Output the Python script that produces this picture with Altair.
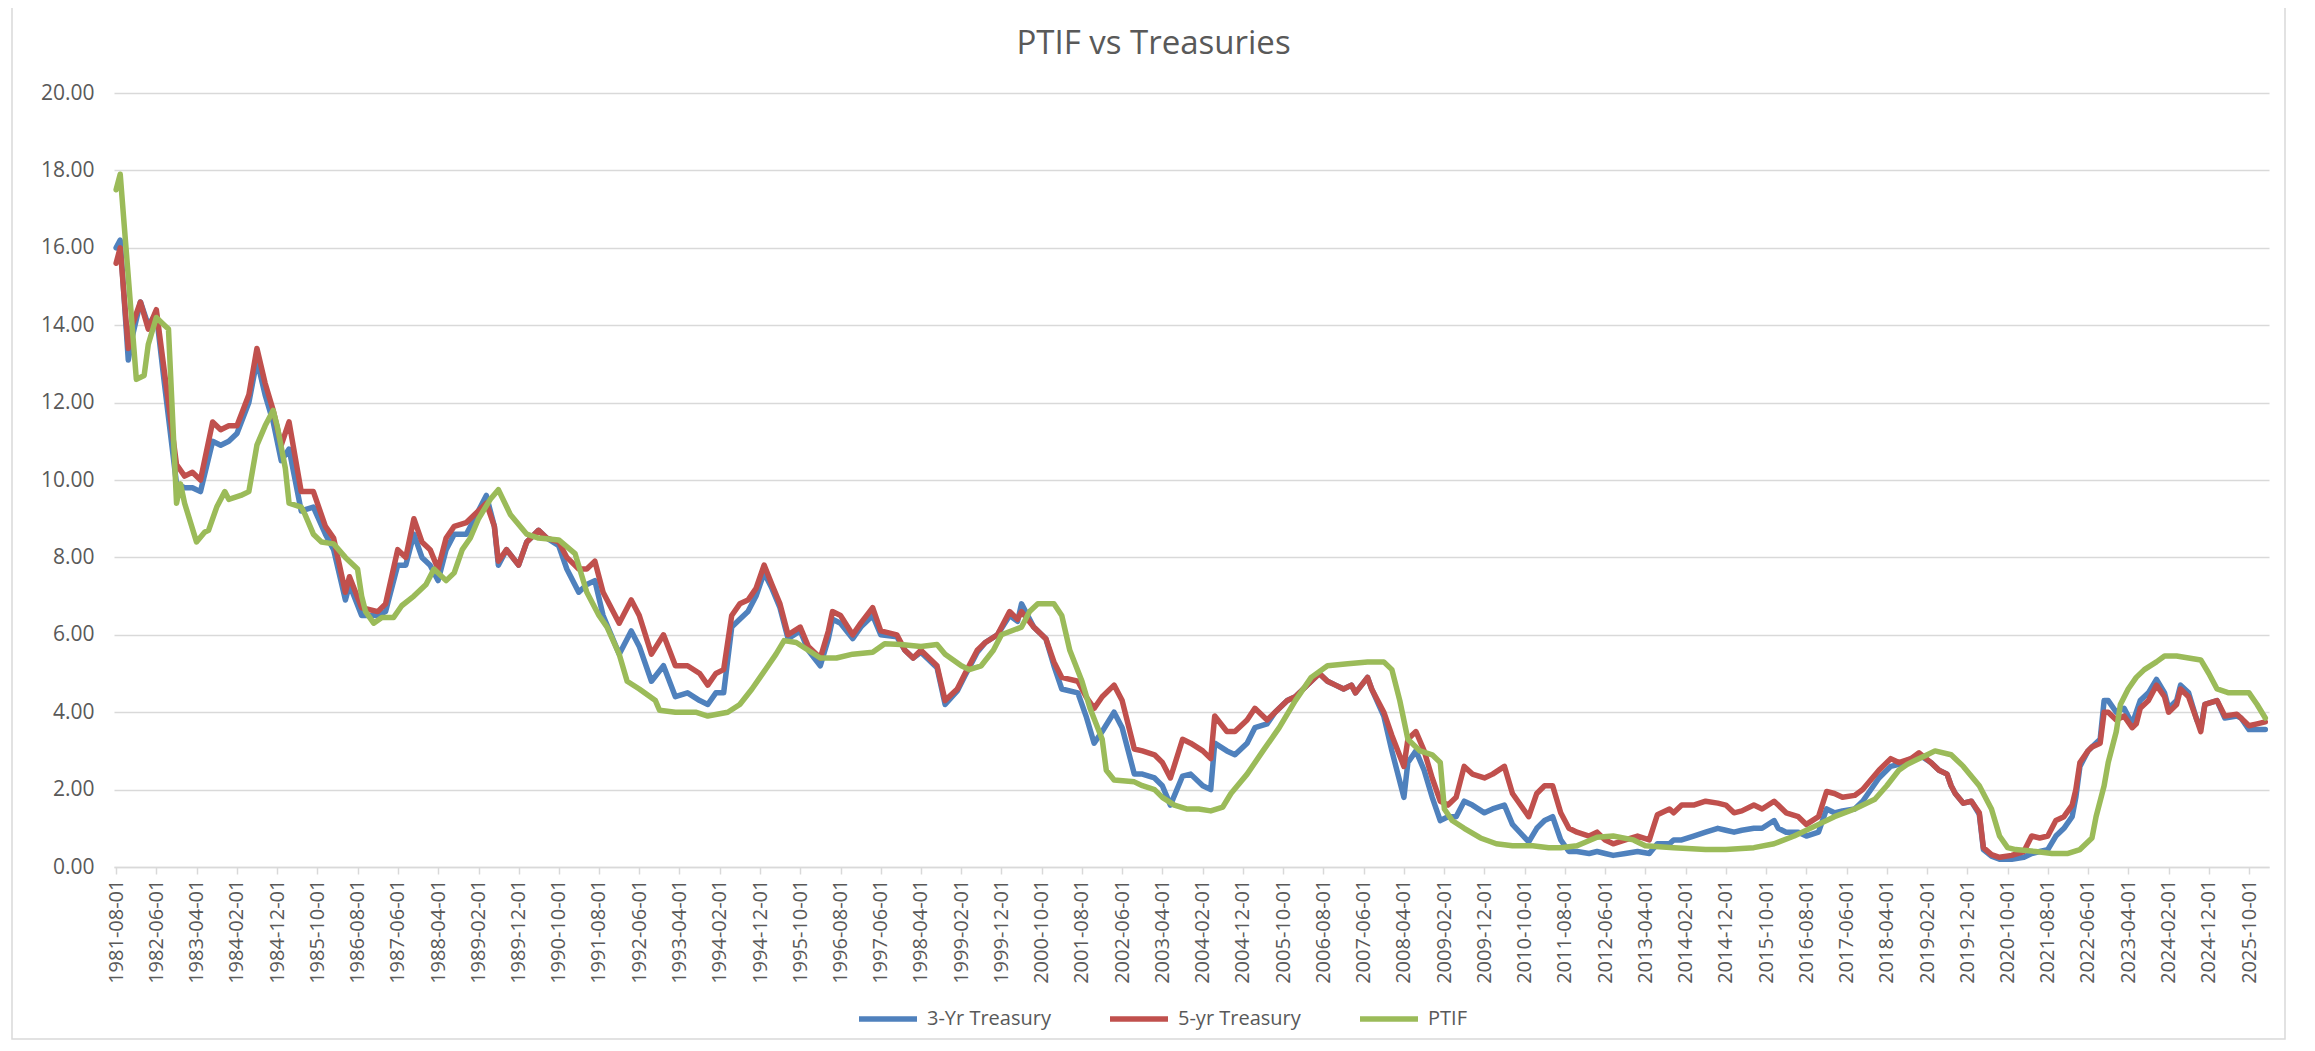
import altair as alt
import pandas as pd

# ---------------- data ----------------
START_YEAR, START_MONTH = 1981, 8   # month offset 0 == 1981-08

SERIES = ["3-Yr Treasury", "5-yr Treasury", "PTIF"]
COLORS = ["#4F81BD", "#C0504D", "#9BBB59"]

# month offsets (from 1981-08) at which the two Treasury series were read
T_MONTHS = [
    0, 1, 3, 4, 6, 8, 10, 12, 15, 17,
    19, 21, 24, 26, 28, 30, 33, 35, 37, 39,
    41, 43, 46, 49, 52, 54, 57, 58, 61, 65,
    67, 70, 72, 74, 76, 78, 80, 82, 84, 87,
    89, 92, 94, 95, 97, 100, 102, 105, 107, 110,
    112, 115, 117, 119, 121, 125, 128, 130, 133, 136,
    139, 142, 145, 147, 149, 151, 153, 155, 157, 159,
    161, 163, 165, 167, 170, 172, 175, 177, 178, 180,
    183, 185, 188, 190, 194, 196, 198, 200, 204, 206,
    209, 211, 214, 216, 219, 222, 224, 225, 228, 231,
    233, 235, 239, 241, 243, 245, 248, 250, 253, 255,
    258, 260, 262, 265, 267, 270, 272, 273, 276, 278,
    281, 283, 286, 288, 291, 293, 296, 299, 301, 303,
    305, 307, 308, 311, 312, 315, 317, 320, 321, 323,
    325, 327, 329, 331, 333, 335, 337, 340, 342, 345,
    347, 351, 353, 355, 357, 359, 361, 363, 366, 368,
    370, 372, 375, 378, 381, 383, 386, 387, 389, 392,
    395, 398, 400, 402, 404, 407, 409, 412, 413, 415,
    418, 420, 423, 425, 427, 429, 432, 434, 438, 441,
    443, 446, 448, 451, 453, 455, 456, 457, 459, 461,
    463, 464, 466, 468, 471, 474, 476, 478, 480, 482,
    484, 486, 487, 488, 490, 491, 493, 494, 495, 497,
    499, 501, 502, 503, 505, 507, 509, 510, 512, 513,
    515, 517, 518, 519, 522, 524, 527, 528, 530, 532,
    534,
]

T3_VALUES = [
    16.0, 16.2, 13.1, 13.7, 14.6, 14.0, 14.3, 12.5, 9.9, 9.8,
    9.8, 9.7, 11.0, 10.9, 11.0, 11.2, 12.0, 13.1, 12.2, 11.5,
    10.5, 10.8, 9.2, 9.3, 8.6, 8.2, 6.9, 7.3, 6.5, 6.5,
    6.6, 7.8, 7.8, 8.6, 8.0, 7.8, 7.4, 8.2, 8.6, 8.6,
    9.0, 9.6, 8.8, 7.8, 8.2, 7.8, 8.4, 8.7, 8.5, 8.3,
    7.7, 7.1, 7.3, 7.4, 6.5, 5.5, 6.1, 5.7, 4.8, 5.2,
    4.4, 4.5, 4.3, 4.2, 4.5, 4.5, 6.2, 6.4, 6.6, 7.0,
    7.6, 7.2, 6.7, 5.9, 6.1, 5.6, 5.2, 5.9, 6.4, 6.3,
    5.9, 6.2, 6.5, 6.0, 5.95, 5.6, 5.4, 5.55, 5.15, 4.2,
    4.55, 4.95, 5.55, 5.8, 6.0, 6.5, 6.35, 6.8, 6.2, 5.9,
    5.2, 4.6, 4.5, 3.9, 3.2, 3.5, 4.0, 3.6, 2.4, 2.4,
    2.3, 2.1, 1.6, 2.35, 2.4, 2.1, 2.0, 3.2, 3.0, 2.9,
    3.2, 3.6, 3.7, 4.0, 4.3, 4.4, 4.7, 5.0, 4.8, 4.7,
    4.6, 4.7, 4.5, 4.9, 4.6, 3.9, 3.0, 1.8, 2.7, 3.0,
    2.5, 1.8, 1.2, 1.3, 1.3, 1.7, 1.6, 1.4, 1.5, 1.6,
    1.1, 0.65, 1.0, 1.2, 1.3, 0.7, 0.4, 0.4, 0.35, 0.4,
    0.35, 0.3, 0.35, 0.4, 0.35, 0.6, 0.6, 0.7, 0.7, 0.8,
    0.9, 1.0, 0.95, 0.9, 0.95, 1.0, 1.0, 1.2, 1.0, 0.9,
    0.9, 0.8, 0.9, 1.5, 1.4, 1.45, 1.5, 1.7, 2.3, 2.6,
    2.65, 2.8, 2.9, 2.7, 2.5, 2.4, 2.1, 1.9, 1.65, 1.7,
    1.36, 0.45, 0.28, 0.2, 0.2, 0.25, 0.35, 0.4, 0.45, 0.8,
    1.0, 1.3, 1.8, 2.6, 3.0, 3.1, 3.3, 4.3, 4.3, 4.0,
    4.1, 3.7, 4.0, 4.3, 4.5, 4.85, 4.5, 4.1, 4.3, 4.7,
    4.5, 3.8, 3.6, 4.2, 4.3, 3.85, 3.9, 3.85, 3.55, 3.55,
    3.55,
]

T5_VALUES = [
    15.6, 16.0, 13.4, 14.0, 14.6, 13.9, 14.4, 12.8, 10.4, 10.1,
    10.2, 10.0, 11.5, 11.3, 11.4, 11.4, 12.2, 13.4, 12.5, 11.8,
    10.9, 11.5, 9.7, 9.7, 8.8, 8.5, 7.1, 7.5, 6.7, 6.6,
    6.8, 8.2, 8.0, 9.0, 8.4, 8.2, 7.7, 8.5, 8.8, 8.9,
    9.1, 9.4, 8.8, 7.9, 8.2, 7.8, 8.4, 8.7, 8.5, 8.4,
    8.0, 7.7, 7.7, 7.9, 7.1, 6.3, 6.9, 6.5, 5.5, 6.0,
    5.2, 5.2, 5.0, 4.7, 5.0, 5.1, 6.5, 6.8, 6.9, 7.2,
    7.8, 7.3, 6.8, 6.0, 6.2, 5.7, 5.4, 6.1, 6.6, 6.5,
    6.0, 6.3, 6.7, 6.1, 6.0, 5.6, 5.4, 5.6, 5.2, 4.3,
    4.6, 5.0, 5.6, 5.8, 6.0, 6.6, 6.4, 6.6, 6.2, 5.9,
    5.3, 4.9, 4.8, 4.4, 4.1, 4.4, 4.7, 4.3, 3.05, 3.0,
    2.9, 2.7, 2.3, 3.3, 3.2, 3.0, 2.8, 3.9, 3.5, 3.5,
    3.8, 4.1, 3.8, 4.0, 4.3, 4.4, 4.7, 5.0, 4.8, 4.7,
    4.6, 4.7, 4.5, 4.9, 4.6, 4.0, 3.4, 2.6, 3.3, 3.5,
    3.0, 2.3, 1.7, 1.6, 1.8, 2.6, 2.4, 2.3, 2.4, 2.6,
    1.9, 1.3, 1.9, 2.1, 2.1, 1.4, 1.0, 0.9, 0.8, 0.9,
    0.7, 0.6, 0.7, 0.8, 0.7, 1.35, 1.5, 1.4, 1.6, 1.6,
    1.7, 1.65, 1.6, 1.4, 1.45, 1.6, 1.5, 1.7, 1.6, 1.4,
    1.3, 1.1, 1.3, 1.95, 1.9, 1.8, 1.85, 2.0, 2.5, 2.8,
    2.7, 2.8, 2.95, 2.7, 2.5, 2.4, 2.1, 1.9, 1.65, 1.7,
    1.4, 0.5, 0.32, 0.25, 0.3, 0.4, 0.8, 0.75, 0.8, 1.2,
    1.3, 1.6, 2.0, 2.7, 3.0, 3.1, 3.2, 4.0, 4.0, 3.8,
    3.9, 3.6, 3.7, 4.1, 4.3, 4.7, 4.4, 4.0, 4.2, 4.6,
    4.4, 3.8, 3.5, 4.2, 4.3, 3.9, 3.95, 3.85, 3.65, 3.7,
    3.75,
]

# month offsets at which the PTIF series was read
P_MONTHS = [
    0, 1, 5, 7, 8, 10, 12, 13, 15, 16,
    17, 20, 22, 23, 25, 27, 28, 31, 33, 35,
    37, 39, 40, 42, 43, 46, 47, 49, 51, 54,
    57, 60, 61, 62, 64, 66, 69, 71, 74, 77,
    79, 82, 84, 86, 88, 90, 93, 95, 98, 102,
    105, 110, 114, 117, 120, 122, 125, 127, 130, 134,
    135, 139, 144, 147, 152, 155, 158, 160, 164, 166,
    169, 172, 175, 179, 183, 188, 191, 195, 200, 204,
    206, 210, 212, 215, 218, 220, 225, 227, 229, 233,
    235, 237, 240, 242, 245, 246, 248, 253, 255, 258,
    260, 263, 266, 269, 272, 275, 277, 281, 285, 289,
    293, 297, 301, 306, 311, 315, 317, 319, 321, 324,
    327, 329, 330, 332, 335, 339, 343, 347, 352, 356,
    359, 363, 368, 372, 377, 380, 387, 395, 400, 407,
    412, 417, 422, 427, 432, 437, 440, 443, 445, 447,
    450, 452, 456, 459, 463, 466, 468, 470, 472, 477,
    481, 485, 488, 491, 492, 494, 495, 497, 498, 500,
    502, 504, 507, 509, 512, 515, 518, 520, 522, 525,
    530, 532, 534,
]

PTIF_VALUES = [
    17.5, 17.9, 12.6, 12.7, 13.5, 14.2, 14.0, 13.9, 9.4, 9.9,
    9.4, 8.4, 8.65, 8.7, 9.3, 9.7, 9.5, 9.6, 9.7, 10.9,
    11.4, 11.8, 11.4, 10.3, 9.4, 9.3, 9.1, 8.6, 8.4, 8.35,
    8.0, 7.7, 7.0, 6.6, 6.3, 6.45, 6.45, 6.75, 7.0, 7.3,
    7.7, 7.4, 7.6, 8.2, 8.5, 9.0, 9.5, 9.75, 9.1, 8.6,
    8.5, 8.45, 8.1, 7.1, 6.5, 6.2, 5.5, 4.8, 4.6, 4.3,
    4.05, 4.0, 4.0, 3.9, 4.0, 4.2, 4.6, 4.9, 5.5, 5.85,
    5.8, 5.6, 5.4, 5.4, 5.5, 5.55, 5.77, 5.75, 5.7, 5.75,
    5.5, 5.2, 5.1, 5.2, 5.6, 6.0, 6.2, 6.6, 6.8, 6.8,
    6.5, 5.6, 4.8, 4.1, 3.3, 2.5, 2.25, 2.2, 2.1, 2.0,
    1.8, 1.6, 1.5, 1.5, 1.45, 1.55, 1.9, 2.4, 3.0, 3.6,
    4.3, 4.9, 5.2, 5.25, 5.3, 5.3, 5.1, 4.3, 3.3, 3.0,
    2.9, 2.7, 1.5, 1.2, 1.0, 0.75, 0.6, 0.55, 0.55, 0.5,
    0.5, 0.55, 0.77, 0.8, 0.7, 0.55, 0.5, 0.45, 0.45, 0.5,
    0.6, 0.8, 1.05, 1.3, 1.5, 1.75, 2.1, 2.5, 2.65, 2.75,
    2.9, 3.0, 2.9, 2.6, 2.1, 1.5, 0.8, 0.5, 0.45, 0.4,
    0.35, 0.35, 0.45, 0.75, 1.3, 2.1, 2.7, 3.5, 4.2, 4.6,
    4.9, 5.1, 5.3, 5.45, 5.45, 5.4, 5.35, 5.0, 4.6, 4.5,
    4.5, 4.2, 3.85,
]

X_TICK_LABELS = [
    "1981-08-01", "1982-06-01", "1983-04-01", "1984-02-01", "1984-12-01",
    "1985-10-01", "1986-08-01", "1987-06-01", "1988-04-01", "1989-02-01",
    "1989-12-01", "1990-10-01", "1991-08-01", "1992-06-01", "1993-04-01",
    "1994-02-01", "1994-12-01", "1995-10-01", "1996-08-01", "1997-06-01",
    "1998-04-01", "1999-02-01", "1999-12-01", "2000-10-01", "2001-08-01",
    "2002-06-01", "2003-04-01", "2004-02-01", "2004-12-01", "2005-10-01",
    "2006-08-01", "2007-06-01", "2008-04-01", "2009-02-01", "2009-12-01",
    "2010-10-01", "2011-08-01", "2012-06-01", "2013-04-01", "2014-02-01",
    "2014-12-01", "2015-10-01", "2016-08-01", "2017-06-01", "2018-04-01",
    "2019-02-01", "2019-12-01", "2020-10-01", "2021-08-01", "2022-06-01",
    "2023-04-01", "2024-02-01", "2024-12-01", "2025-10-01",
]
Y_TICKS = [0, 2, 4, 6, 8, 10, 12, 14, 16, 18, 20]

TITLE = "PTIF vs Treasuries"
TEXT_COLOR = "#595959"
GRID_COLOR = "#D9D9D9"
FONT = "Open Sans"


# ---------------- build table ----------------
def month_to_date(m):
    total = START_MONTH - 1 + m
    return f"{START_YEAR + total // 12:04d}-{total % 12 + 1:02d}-01"


rows = []
for m, v in zip(T_MONTHS, T3_VALUES):
    rows.append({"date": month_to_date(m), "series": SERIES[0], "value": v})
for m, v in zip(T_MONTHS, T5_VALUES):
    rows.append({"date": month_to_date(m), "series": SERIES[1], "value": v})
for m, v in zip(P_MONTHS, PTIF_VALUES):
    rows.append({"date": month_to_date(m), "series": SERIES[2], "value": v})
df = pd.DataFrame(rows)


def dt(s):
    y, mo, d = (int(p) for p in s.split("-"))
    return alt.DateTime(year=y, month=mo, date=d, utc=True)


x_enc = alt.X(
    "date:T",
    scale=alt.Scale(type="utc", domain=[dt("1981-07-16"), dt("2026-03-01")]),
    axis=alt.Axis(
        title=None,
        values=[dt(s) for s in X_TICK_LABELS],
        labelExpr="utcFormat(datum.value, '%Y-%m-%d')",
        labelAngle=270,
        labelFont=FONT,
        labelFontSize=20,
        labelColor=TEXT_COLOR,
        labelOverlap=False,
        labelFlush=False,
        labelPadding=5,
        grid=False,
        domainColor=GRID_COLOR,
        domainWidth=1.5,
        tickColor=GRID_COLOR,
        tickWidth=1.5,
        tickSize=7,
    ),
)
y_enc = alt.Y(
    "value:Q",
    scale=alt.Scale(domain=[0, 20], nice=False),
    axis=alt.Axis(
        title=None,
        values=Y_TICKS,
        format=".2f",
        labelFont=FONT,
        labelFontSize=21,
        labelColor=TEXT_COLOR,
        labelPadding=20,
        domain=False,
        ticks=False,
        grid=True,
        gridColor=GRID_COLOR,
        gridWidth=1.5,
    ),
)
color_enc = alt.Color(
    "series:N",
    scale=alt.Scale(domain=SERIES, range=COLORS),
    legend=alt.Legend(
        title=None,
        orient="none",
        legendX=742,
        legendY=894,
        direction="horizontal",
        columns=3,
        symbolType="stroke",
        symbolSize=3364,
        symbolStrokeWidth=5.5,
        labelFont=FONT,
        labelFontSize=20,
        labelColor=TEXT_COLOR,
        labelOffset=7,
        columnPadding=48,
        padding=0,
    ),
)

base = alt.Chart(df).mark_line(strokeWidth=5.5, strokeJoin="round", strokeCap="round").encode(
    x=x_enc, y=y_enc, color=color_enc, order="date:T"
)
lines = [base.transform_filter(alt.datum.series == s) for s in SERIES]

frame = alt.Chart(pd.DataFrame({"k": [0]})).mark_rect(
    filled=False, stroke=GRID_COLOR, strokeWidth=1.5
).encode(
    x=alt.value(-102), x2=alt.value(2171), y=alt.value(-86), y2=alt.value(946)
)

chart = alt.layer(frame, *lines).properties(
    width=2155,
    height=774,
    autosize=alt.AutoSizeParams(type="none"),
    padding={"left": 106, "top": 85, "right": 38, "bottom": 176},
    title=alt.TitleParams(
        TITLE,
        font=FONT,
        fontSize=33,
        fontWeight="normal",
        color=TEXT_COLOR,
        anchor="middle",
        dx=-38,
        dy=55,
        offset=0,
    ),
).configure_view(strokeWidth=0)

chart.save("out.html", embed_options={"renderer": "svg", "actions": False})
